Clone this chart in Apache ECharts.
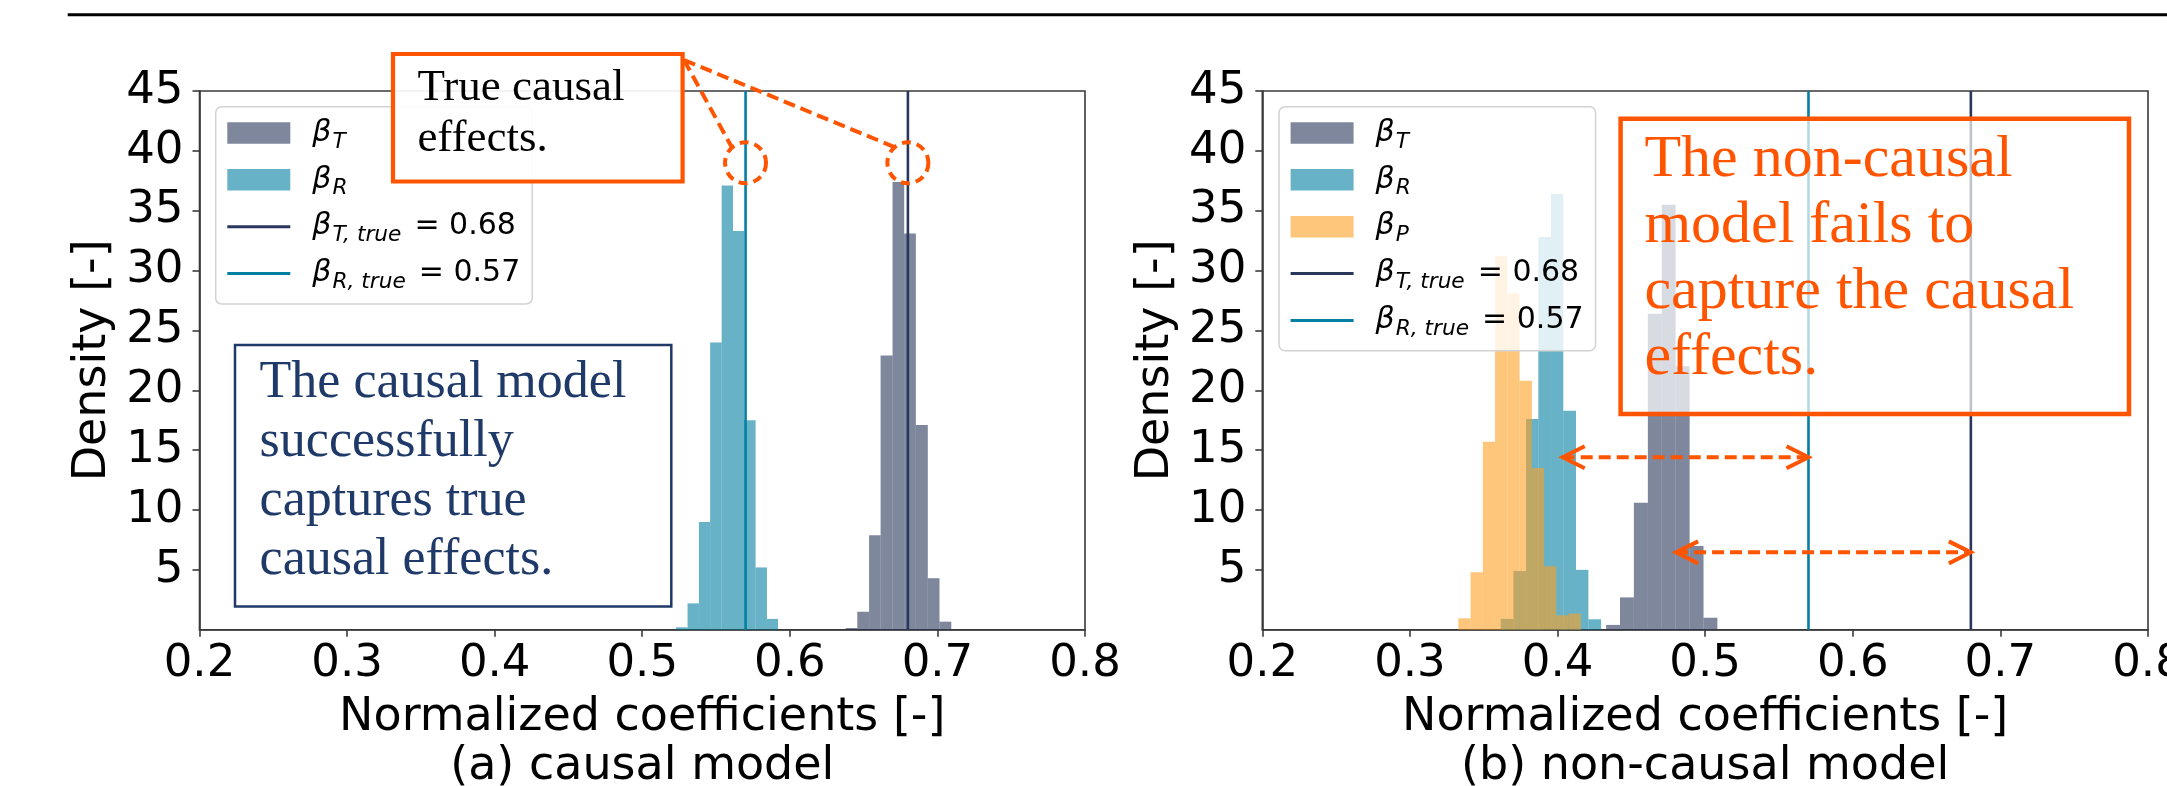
<!DOCTYPE html>
<html>
<head>
<meta charset="utf-8">
<script src="https://cdn.jsdelivr.net/npm/echarts@6.0.0/dist/echarts.min.js"></script>
<style>
  html, body { margin: 0; padding: 0; background: #fff; }
  #main { width: 2167px; height: 786px; }
</style>
</head>
<body>
<div id="main"></div>
<script>
// ticks
var xTicks = [0.2, 0.3, 0.4, 0.5, 0.6, 0.7, 0.8];
var yTicks = [5, 10, 15, 20, 25, 30, 35, 40, 45];

// (a) causal model: bin edges + density
var edgesTa = [0.6378, 0.6457, 0.6537, 0.6615, 0.6696, 0.6775, 0.6854, 0.6935, 0.7014, 0.7094];
var densTa  = [0.14, 1.5, 7.9, 22.9, 37.4, 33.1, 17.1, 4.3, 0.67];
var edgesRa = [0.5228, 0.5307, 0.5384, 0.5460, 0.5538, 0.5615, 0.5691, 0.5768, 0.5845, 0.5920];
var densRa  = [0.2, 2.2, 9.0, 24.0, 37.1, 33.3, 17.5, 5.2, 0.9];

// (b) non-causal model
var edgesTb = [0.4329, 0.4423, 0.4517, 0.4612, 0.4706, 0.4800, 0.4895, 0.4989, 0.5083];
var densTb  = [0.4, 2.7, 10.6, 26.4, 35.5, 22.0, 7.0, 1.0];
var edgesRb = [0.3615, 0.3701, 0.3787, 0.3870, 0.3956, 0.4039, 0.4125, 0.4209, 0.4295];
var densRb  = [0.9, 4.9, 17.6, 32.8, 36.4, 18.3, 5.0, 0.87];
var edgesPb = [0.3328, 0.3411, 0.3494, 0.3577, 0.3660, 0.3743, 0.3826, 0.3909, 0.3992, 0.4075, 0.4158];
var densPb  = [0.95, 4.8, 15.7, 31.2, 28.1, 20.8, 13.5, 5.3, 1.2, 1.35];

// true values and annotation anchors (data coords)
var trueT = 0.68, trueR = 0.57;
var circleY = 39;
var arrowsB = [[0.4035, 0.57, 14.4], [0.4803, 0.68, 6.46]];

var navy = '#2a375c', teal = '#027fa2', amber = '#fca021';
var fillT = '#7f879d', fillR = '#67b2c7', fillP = '#fdc67a';
var red = '#ff5500', boxNavy = '#1f3a68';
var sans = 'DejaVu Sans', serif = 'Liberation Serif';
var spine = '#3a3a3a';

function bins(edges, dens) {
    return dens.map(function (d, i) { return [edges[i], edges[i + 1], d]; });
}

function histRender(color) {
    return function (params, api) {
        var p0 = api.coord([api.value(0), 0]);
        var p1 = api.coord([api.value(1), api.value(2)]);
        return {
            type: 'rect',
            shape: { x: p0[0], y: p1[1], width: p1[0] - p0[0], height: p0[1] - p1[1] },
            style: { fill: color, opacity: 0.6 }
        };
    };
}

function hist(name, gi, edges, dens, base, legendColor) {
    return {
        type: 'custom', name: name, xAxisIndex: gi, yAxisIndex: gi,
        data: bins(edges, dens), encode: { x: [0, 1], y: 2 },
        itemStyle: { color: legendColor }, silent: true,
        renderItem: histRender(base)
    };
}

function vline(name, gi, x, color) {
    return {
        type: 'line', name: name, xAxisIndex: gi, yAxisIndex: gi,
        data: [[x, 0], [x, 45]], symbol: 'none', silent: true,
        lineStyle: { color: color, width: 2.6 }, itemStyle: { color: color }
    };
}

function xAxis(gi) {
    return {
        type: 'value', gridIndex: gi, min: 0.2, max: 0.8,
        axisLine: { show: true, lineStyle: { color: spine, width: 1.6 } },
        axisTick: { show: true, customValues: xTicks, length: 7, lineStyle: { color: spine, width: 1.6 } },
        axisLabel: { customValues: xTicks, formatter: function (v) { return v.toFixed(1); },
            margin: 12, fontSize: 45, fontFamily: sans, color: '#000' },
        splitLine: { show: false },
        name: 'Normalized coefficients [-]', nameLocation: 'middle', nameGap: 88,
        nameTextStyle: { fontSize: 46, fontFamily: sans, color: '#000', verticalAlign: 'middle' }
    };
}

function yAxis(gi) {
    return {
        type: 'value', gridIndex: gi, min: 0, max: 45,
        axisLine: { show: true, lineStyle: { color: spine, width: 1.6 } },
        axisTick: { show: true, customValues: yTicks, length: 7, lineStyle: { color: spine, width: 1.6 } },
        axisLabel: { customValues: yTicks, margin: 16, fontSize: 45, fontFamily: sans, color: '#000' },
        splitLine: { show: false },
        name: 'Density [-]', nameLocation: 'middle', nameGap: 106, nameRotate: 90,
        nameTextStyle: { fontSize: 46, fontFamily: sans, color: '#000', verticalAlign: 'middle' }
    };
}

var legendText = {
    'βT': '{sp| }{b|β}{s|T}',
    'βR': '{sp| }{b|β}{s|R}',
    'βP': '{sp| }{b|β}{s|P}',
    'βT,true': '{sp| }{b|β}{s|T, true}{r|= 0.68}',
    'βR,true': '{sp| }{b|β}{s|R, true}{r|= 0.57}'
};
var rich = {
    sp: { width: 17, fontSize: 30, lineHeight: 40 },
    b: { fontFamily: sans, fontStyle: 'italic', fontSize: 30, lineHeight: 40, color: '#000' },
    s: { fontFamily: sans, fontStyle: 'italic', fontSize: 21.7, lineHeight: 23, verticalAlign: 'bottom', color: '#000', padding: [0, 0, 0, 1] },
    r: { fontFamily: sans, fontSize: 30, lineHeight: 40, color: '#000', padding: [0, 0, 0, 13] }
};
var lineIcon = 'path://M0,0H63V3H0Z';

function legend(left, names) {
    return {
        orient: 'vertical', left: left, top: 106.7,
        padding: [11.2, 12, 10.3, 11.6], itemWidth: 63, itemHeight: 21.5, itemGap: 11.9,
        backgroundColor: 'rgba(255,255,255,0.8)', borderColor: '#d2d2d2', borderWidth: 1.5, borderRadius: 6,
        selectedMode: false,
        textStyle: { fontFamily: sans, fontSize: 30, color: '#000', rich: rich },
        formatter: function (n) { return legendText[n]; },
        data: names.map(function (n) {
            return n.indexOf('true') > 0
                ? { name: n, icon: lineIcon, itemStyle: { borderWidth: 0 } }
                : { name: n, icon: 'rect' };
        })
    };
}

var chart = echarts.init(document.getElementById('main'));
chart.setOption({
    animation: false,
    backgroundColor: '#fff',
    grid: [
        { left: 199.5, top: 91, width: 885.5, height: 538.7, show: true, borderColor: spine, borderWidth: 1.6, outerBoundsMode: 'none' },
        { left: 1262.3, top: 91, width: 885.7, height: 538.7, show: true, borderColor: spine, borderWidth: 1.6, outerBoundsMode: 'none' }
    ],
    xAxis: [xAxis(0), xAxis(1)],
    yAxis: [yAxis(0), yAxis(1)],
    legend: [
        legend(215.7, ['βT', 'βR', 'βT,true', 'βR,true']),
        legend(1279, ['βT', 'βR', 'βP', 'βT,true', 'βR,true'])
    ],
    series: [
        hist('βT', 0, edgesTa, densTa, navy, fillT),
        hist('βR', 0, edgesRa, densRa, teal, fillR),
        vline('βT,true', 0, trueT, navy),
        vline('βR,true', 0, trueR, teal),
        hist('βT', 1, edgesTb, densTb, navy, fillT),
        hist('βR', 1, edgesRb, densRb, teal, fillR),
        hist('βP', 1, edgesPb, densPb, amber, fillP),
        vline('βT,true', 1, trueT, navy),
        vline('βR,true', 1, trueR, teal)
    ]
});

// annotations, placed through the axes' own scales
var Z = 50;
var els = [];
els.push({ type: 'line', z: Z, shape: { x1: 67.7, y1: 14.7, x2: 2167, y2: 14.7 }, style: { stroke: '#000', lineWidth: 3 } });

// (a) true causal effects callout
var c1 = chart.convertToPixel({ gridIndex: 0 }, [trueR, circleY]);
var c2 = chart.convertToPixel({ gridIndex: 0 }, [trueT, circleY]);
[c1, c2].forEach(function (c) {
    els.push({ type: 'circle', z: Z, shape: { cx: c[0], cy: c[1], r: 20.5 },
        style: { fill: 'none', stroke: red, lineWidth: 4, lineDash: [9, 6] } });
    els.push({ type: 'line', z: Z, shape: { x1: 684, y1: 60, x2: c[0] - 14, y2: c[1] - 16 },
        style: { stroke: red, lineWidth: 4, lineDash: [12, 6] } });
});
els.push({ type: 'rect', z: Z, shape: { x: 393, y: 54, width: 289.6, height: 127.5 },
    style: { fill: 'rgba(255,255,255,0.92)', stroke: red, lineWidth: 4.2 } });
els.push({ type: 'text', z: Z + 1, style: { text: 'True causal\neffects.', x: 417.4, y: 63.2,
    fontFamily: serif, fontSize: 45, lineHeight: 50.6, fill: '#000', align: 'left', verticalAlign: 'top' } });

// (a) message box
els.push({ type: 'rect', z: Z, shape: { x: 235, y: 345, width: 436.3, height: 261.5 },
    style: { fill: '#fff', stroke: boxNavy, lineWidth: 2.5 } });
els.push({ type: 'text', z: Z + 1, style: { text: 'The causal model\nsuccessfully\ncaptures true\ncausal effects.',
    x: 259.6, y: 354, fontFamily: serif, fontSize: 52, lineHeight: 59, fill: boxNavy, align: 'left', verticalAlign: 'top' } });

// (b) gap arrows
arrowsB.forEach(function (a) {
    var p = chart.convertToPixel({ gridIndex: 1 }, [a[0], a[2]]);
    var q = chart.convertToPixel({ gridIndex: 1 }, [a[1], a[2]]);
    els.push({ type: 'line', z: Z, shape: { x1: p[0], y1: p[1], x2: q[0], y2: q[1] },
        style: { stroke: red, lineWidth: 4, lineDash: [12, 6] } });
    els.push({ type: 'polyline', z: Z, shape: { points: [[p[0] + 22, p[1] - 11], [p[0], p[1]], [p[0] + 22, p[1] + 11]] },
        style: { fill: 'none', stroke: red, lineWidth: 4 } });
    els.push({ type: 'polyline', z: Z, shape: { points: [[q[0] - 22, q[1] - 11], [q[0], q[1]], [q[0] - 22, q[1] + 11]] },
        style: { fill: 'none', stroke: red, lineWidth: 4 } });
});

// (b) message box
els.push({ type: 'rect', z: Z, shape: { x: 1620.6, y: 118.8, width: 508.4, height: 295.2 },
    style: { fill: 'rgba(255,255,255,0.7)', stroke: red, lineWidth: 4.5 } });
els.push({ type: 'text', z: Z + 1, style: { text: 'The non-causal\nmodel fails to\ncapture the causal\neffects.',
    x: 1644.4, y: 127.5, fontFamily: serif, fontSize: 60, lineHeight: 66, fill: red, align: 'left', verticalAlign: 'top' } });

// panel captions
els.push({ type: 'text', z: Z, style: { text: '(a) causal model', x: 642.3, y: 767,
    fontFamily: sans, fontSize: 46, fill: '#000', align: 'center', verticalAlign: 'middle' } });
els.push({ type: 'text', z: Z, style: { text: '(b) non-causal model', x: 1705.2, y: 767,
    fontFamily: sans, fontSize: 46, fill: '#000', align: 'center', verticalAlign: 'middle' } });

chart.setOption({ graphic: els });
</script>
</body>
</html>
